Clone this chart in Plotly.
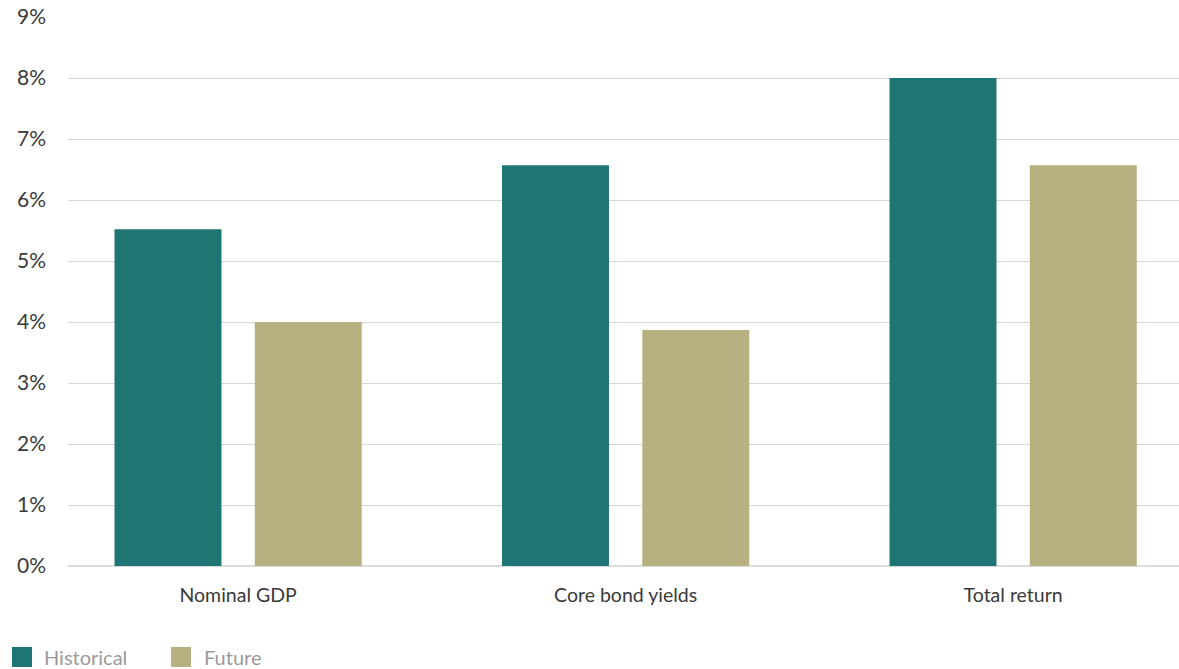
import plotly.graph_objects as go

categories = ["Nominal GDP", "Core bond yields", "Total return"]
historical = [5.52, 6.57, 8.0]
future = [4.0, 3.87, 6.57]
y_ticks = [0, 1, 2, 3, 4, 5, 6, 7, 8, 9]
y_tick_labels = ["0%", "1%", "2%", "3%", "4%", "5%", "6%", "7%", "8%", "9%"]
series_names = ["Historical", "Future"]

C_HIST = "#1e7574"
C_FUT = "#b7b182"
FONT = "Lato, 'Open Sans', sans-serif"

fig = go.Figure()
fig.add_trace(go.Bar(x=categories, y=historical, name=series_names[0],
                     marker=dict(color=C_HIST, line=dict(width=0)),
                     width=0.276, offset=-0.319, showlegend=False))
fig.add_trace(go.Bar(x=categories, y=future, name=series_names[1],
                     marker=dict(color=C_FUT, line=dict(width=0)),
                     width=0.276, offset=0.043, showlegend=False))

W, H = 1179, 669
L, R, T, B = 68, 0, 17, 103
pw, ph = W - L - R, H - T - B

def px_x(X):
    return (X - L) / pw

def px_y(Y):
    return (H - B - Y) / ph

shapes = []
annotations = []
leg = [(12, 42, C_HIST, series_names[0]), (171, 202, C_FUT, series_names[1])]
for sx, tx, col, name in leg:
    shapes.append(dict(type="rect", xref="paper", yref="paper",
                       x0=px_x(sx), x1=px_x(sx + 20), y0=px_y(667), y1=px_y(647),
                       fillcolor=col, line=dict(width=0)))
    annotations.append(dict(xref="paper", yref="paper", x=px_x(tx), y=px_y(657),
                            text=name, showarrow=False, xanchor="left", yanchor="middle",
                            font=dict(family=FONT, size=20, color="#9a9a9a")))

fig.update_layout(
    width=W, height=H,
    margin=dict(l=L, r=R, t=T, b=B, pad=0),
    barmode="overlay",
    plot_bgcolor="white", paper_bgcolor="white",
    font=dict(family=FONT, size=19, color="#3a3a3a"),
    shapes=shapes, annotations=annotations,
    xaxis=dict(range=[-0.439, 2.428], showgrid=False, showline=False,
               ticks="", ticklabelstandoff=15, tickfont=dict(size=19.5, color="#3a3a3a")),
    yaxis=dict(range=[0, 9], tickvals=y_ticks, ticktext=y_tick_labels,
               showgrid=True, gridcolor="#d6d6d6", gridwidth=1,
               zeroline=True, zerolinecolor="#dcdcdc", zerolinewidth=2,
               showline=False, ticks="", ticklabelstandoff=21,
               tickfont=dict(size=21, color="#3a3a3a")),
)

fig.write_html("out.html")
